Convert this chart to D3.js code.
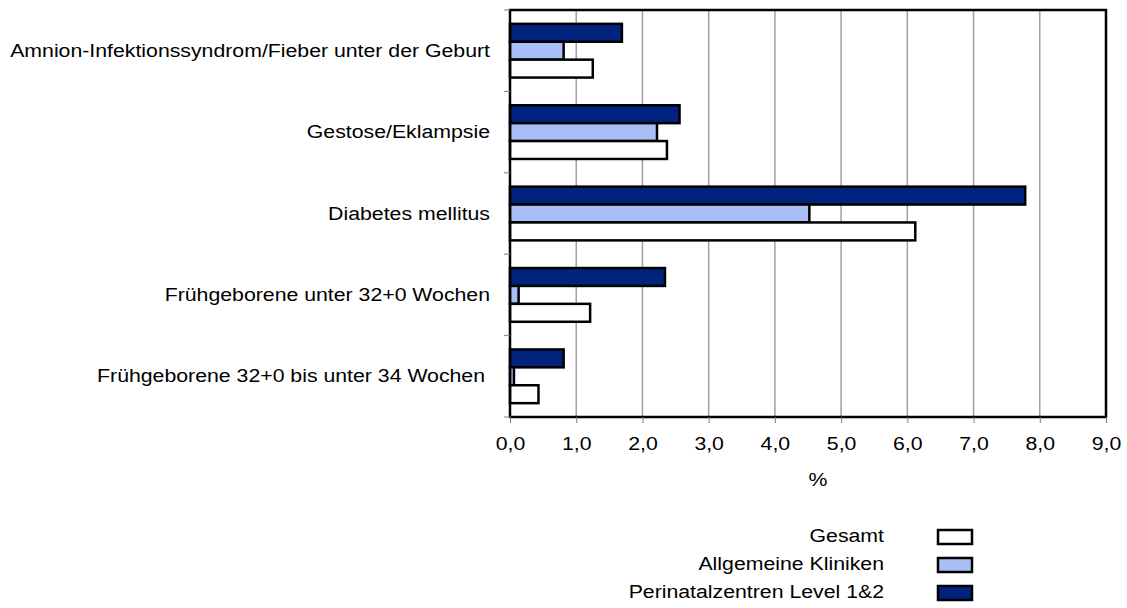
<!DOCTYPE html>
<html>
<head>
<meta charset="utf-8">
<script src="https://cdn.jsdelivr.net/npm/d3@7"></script>
<style>
  body { margin: 0; background: #fff; }
  text { font-family: "Liberation Sans", Arial, sans-serif; fill: #000; }
</style>
</head>
<body>
<svg id="chart" width="1127" height="608"></svg>
<script>
// categories, top to bottom
const categories = [
  "Amnion-Infektionssyndrom/Fieber unter der Geburt",
  "Gestose/Eklampsie",
  "Diabetes mellitus",
  "Frühgeborene unter 32+0 Wochen",
  "Frühgeborene 32+0 bis unter 34 Wochen"
];
// series values in %
const perinatal = [1.69, 2.56, 7.78, 2.34, 0.81];
const allgemein = [0.81, 2.22, 4.52, 0.13, 0.06];
const gesamt    = [1.25, 2.37, 6.12, 1.21, 0.43];

const seriesNames = ["Perinatalzentren Level 1&2", "Allgemeine Kliniken", "Gesamt"];
const seriesColors = ["#00247d", "#a8bef5", "#ffffff"];
const xTicks = [0, 1, 2, 3, 4, 5, 6, 7, 8, 9];
const legendOrder = ["Gesamt", "Allgemeine Kliniken", "Perinatalzentren Level 1&2"];

const seriesData = [perinatal, allgemein, gesamt];

const svg = d3.select("#chart");
const plotLeft = 510, plotRight = 1106, plotTop = 10, plotBottom = 417;
const fs = 19, sx = 1.12; // text looks a bit wide in the original

let x = d3.scaleLinear().domain([0, 9]).range([plotLeft, plotRight]);
let y0 = d3.scaleBand().domain(categories).range([plotTop, plotBottom]).padding(0);
let bw = y0.bandwidth();
let y1 = d3.scaleBand().domain(seriesNames).range([bw * 0.17, bw * 0.83]).padding(0);
let color = d3.scaleOrdinal().domain(seriesNames).range(seriesColors);

// gridlines
svg.append("g")
  .selectAll("line")
  .data(xTicks.slice(1, -1))
  .enter()
  .append("line")
  .attr("x1", d => x(d)).attr("x2", d => x(d))
  .attr("y1", plotTop).attr("y2", plotBottom)
  .attr("stroke", "#a0a0a0")
  .attr("stroke-width", 1.5);

// bars
let rows = [];
categories.forEach((c, i) => {
  seriesNames.forEach((s, j) => rows.push({cat: c, series: s, value: seriesData[j][i]}));
});

svg.append("g")
  .selectAll("rect")
  .data(rows)
  .enter()
  .append("rect")
  .attr("x", x(0))
  .attr("y", d => y0(d.cat) + y1(d.series))
  .attr("width", d => x(d.value) - x(0))
  .attr("height", y1.bandwidth())
  .attr("fill", d => color(d.series))
  .attr("stroke", "#000")
  .attr("stroke-width", 2.5);

// frame
svg.append("rect")
  .attr("x", plotLeft).attr("y", plotTop)
  .attr("width", plotRight - plotLeft).attr("height", plotBottom - plotTop)
  .attr("fill", "none")
  .attr("stroke", "#000")
  .attr("stroke-width", 2.5);

// x axis
let xAxis = svg.append("g")
  .attr("transform", `translate(0,${plotBottom})`)
  .call(d3.axisBottom(x).tickValues(xTicks).tickSize(6)
    .tickFormat(d => d3.format(".1f")(d).replace(".", ",")));
xAxis.select(".domain").remove();
xAxis.selectAll("line").attr("stroke", "#808080");
xAxis.selectAll("text")
  .attr("y", 0).attr("dy", null)
  .attr("dominant-baseline", "middle")
  .attr("transform", `translate(0,28) scale(${sx},1)`)
  .attr("font-size", fs)
  .attr("font-family", "Liberation Sans, Arial, sans-serif");

// y axis ticks at band edges
let edges = categories.map(c => y0(c)).concat([plotBottom]);
svg.append("g")
  .selectAll("line")
  .data(edges)
  .enter()
  .append("line")
  .attr("x1", plotLeft - 6).attr("x2", plotLeft)
  .attr("y1", d => d).attr("y2", d => d)
  .attr("stroke", "#808080");

// category labels
svg.append("g")
  .selectAll("text")
  .data(categories)
  .enter()
  .append("text")
  .attr("transform", (d, i) => `translate(${i === 4 ? 485 : 490},${y0(d) + bw / 2 + 1}) scale(${sx},1)`)
  .attr("text-anchor", "end")
  .attr("dominant-baseline", "middle")
  .attr("font-size", fs)
  .text(d => d);

// axis title
svg.append("text")
  .attr("transform", `translate(${(plotLeft + plotRight) / 2 + 10},481) scale(${sx},1)`)
  .attr("text-anchor", "middle")
  .attr("dominant-baseline", "middle")
  .attr("font-size", fs)
  .text("%");

// legend
let legend = svg.append("g")
  .selectAll("g")
  .data(legendOrder)
  .enter()
  .append("g")
  .attr("transform", (d, i) => `translate(0,${537 + i * 28})`);

legend.append("text")
  .attr("transform", `translate(884,0) scale(${sx},1)`)
  .attr("text-anchor", "end")
  .attr("dominant-baseline", "middle")
  .attr("font-size", fs)
  .text(d => d);

legend.append("rect")
  .attr("x", 938).attr("y", -7)
  .attr("width", 34).attr("height", 14)
  .attr("fill", d => color(d))
  .attr("stroke", "#000")
  .attr("stroke-width", 2.5);
</script>
</body>
</html>
